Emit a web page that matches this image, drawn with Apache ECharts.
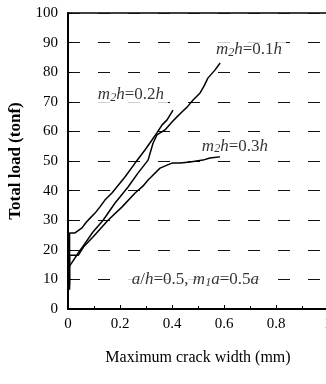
<!DOCTYPE html>
<html><head><meta charset="utf-8">
<script src="https://cdn.jsdelivr.net/npm/echarts@6/dist/echarts.min.js"></script>
<style>html,body{margin:0;padding:0;background:#fff}#c{width:326px;height:384px}</style>
</head><body><div id="c"></div>
<script>
const xTicks = [0, 0.2, 0.4, 0.6, 0.8, 1];
const yTicks = [0, 10, 20, 30, 40, 50, 60, 70, 80, 90, 100];

const crack01 = [0.006, 0.04, 0.06, 0.096, 0.135, 0.181, 0.231, 0.269, 0.308, 0.327, 0.342, 0.373, 0.4, 0.419, 0.442, 0.458, 0.481, 0.508, 0.523, 0.538, 0.565, 0.585];
const load01  = [14.5, 19, 21.5, 26, 30, 35.8, 41.2, 45.9, 50.3, 56, 58.8, 60.5, 63.2, 64.9, 66.9, 68.2, 70.6, 73, 75.3, 78, 80.7, 83.1];

const crack02 = [0.006, 0.006, 0.027, 0.054, 0.07, 0.085, 0.104, 0.123, 0.142, 0.169, 0.219, 0.258, 0.296, 0.323, 0.342, 0.362, 0.381, 0.404];
const load02  = [6.5, 25.7, 25.7, 27.4, 29.3, 30.7, 32.4, 34.5, 36.8, 39.2, 44.6, 49.3, 53.7, 57.1, 59.5, 62.2, 63.9, 67.2];

const crack03 = [0.006, 0.006, 0.04, 0.06, 0.096, 0.154, 0.208, 0.258, 0.288, 0.308, 0.354, 0.381, 0.4, 0.431, 0.469, 0.519, 0.546, 0.585];
const load03  = [8, 18.2, 18.2, 21, 24.3, 30, 34.5, 39.2, 41.5, 43.6, 47.6, 48.6, 49.3, 49.3, 49.7, 50.3, 51, 51.4];

const labelText = ['m₂h=0.1h', 'm₂h=0.2h', 'm₂h=0.3h', 'a/h=0.5, m₁a=0.5a'];
const labelPos = [[0.696, 87.5], [0.242, 72.3], [0.642, 55], [0.49, 9.8]];

const zip = (xs, ys) => xs.map((x, i) => [x, ys[i]]);
const FONT = 'Liberation Serif';

const rich = {
  i: {fontFamily: FONT, fontStyle: 'italic', fontSize: 17, color: '#000'},
  r: {fontFamily: FONT, fontSize: 17, color: '#000'},
  s: {fontFamily: FONT, fontStyle: 'italic', fontSize: 12, color: '#000', padding: [6, 0, 0, 0]}
};
function toRich(t) {
  let out = '';
  for (const ch of t) {
    if (ch === '₂') out += '{s|2}';
    else if (ch === '₁') out += '{s|1}';
    else if (/[a-z]/.test(ch)) out += '{i|' + ch + '}';
    else out += '{r|' + ch + '}';
  }
  return out;
}

const lineStyle = {color: '#000', width: 1.5};
const mk = (name, data) => ({
  name, type: 'line', data, showSymbol: false, symbol: 'none',
  lineStyle, animation: false, z: 3
});

const chart = echarts.init(document.getElementById('c'), null, {renderer: 'canvas'});
const option = {
  animation: false,
  backgroundColor: '#fff',
  grid: {left: 68, right: -2, top: 13, bottom: 75, outerBoundsMode: 'none', containLabel: false,
    show: true, borderColor: '#000', borderWidth: 1.5, backgroundColor: 'transparent'},
  xAxis: {
    type: 'value', min: xTicks[0], max: xTicks[xTicks.length - 1], interval: 0.2,
    name: 'Maximum crack width (mm)', nameLocation: 'middle', nameGap: 41,
    nameTextStyle: {fontFamily: FONT, fontSize: 16, color: '#000'},
    axisLine: {lineStyle: {color: '#000', width: 2}},
    axisTick: {show: true, inside: true, length: 4, lineStyle: {color: '#000'}},
    minorTick: {show: true, splitNumber: 2, length: 3, lineStyle: {color: '#000'}},
    splitLine: {show: false},
    axisLabel: {fontFamily: FONT, fontSize: 15, color: '#000', margin: 8, hideOverlap: false,
      formatter: v => (v === 0 ? '0' : v === 1 ? '1' : v.toFixed(1))}
  },
  yAxis: {
    type: 'value', min: yTicks[0], max: yTicks[yTicks.length - 1], interval: 10,
    name: 'Total load (tonf)', nameLocation: 'middle', nameGap: 44,
    nameTextStyle: {fontFamily: FONT, fontSize: 17, fontWeight: 'bold', color: '#000'},
    axisLine: {lineStyle: {color: '#000', width: 2}},
    axisTick: {show: true, inside: true, length: 4, lineStyle: {color: '#000'}},
    splitLine: {show: true, lineStyle: {color: '#111', width: 1.2, type: [12, 18]}},
    axisLabel: {fontFamily: FONT, fontSize: 15, color: '#000', margin: 10}
  },
  series: [
    mk('m2h=0.1h', zip(crack01, load01)),
    mk('m2h=0.2h', zip(crack02, load02)),
    mk('m2h=0.3h', zip(crack03, load03)),
    {
      type: 'scatter', data: labelPos.map((p, i) => ({value: p, label: {formatter: toRich(labelText[i])}})),
      symbolSize: 1, itemStyle: {color: 'rgba(0,0,0,0)'}, z: 5, silent: true,
      label: {show: true, position: 'inside', backgroundColor: '#fff', padding: [1, 4], rich}
    }
  ]
};
chart.setOption(option);
</script></body></html>
